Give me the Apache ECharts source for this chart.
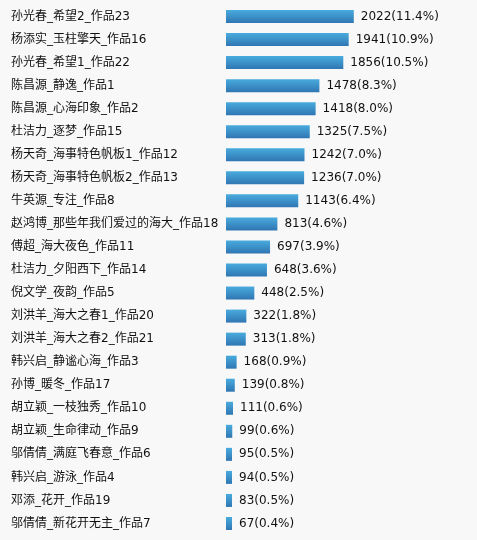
<!DOCTYPE html>
<html lang="zh">
  <head>
    <meta charset="utf-8" />
    <title>作品投票</title>
    <script src="https://cdn.jsdelivr.net/npm/echarts@6/dist/echarts.min.js"></script>
    <style>
      html, body { margin: 0; padding: 0; background: #f8f8f8; }
      #chart { width: 477px; height: 540px; }
    </style>
  </head>
  <body>
    <div id="chart"></div>
    <script type="text/javascript">
      // 作品名称（从上到下）
      var works = [
        "孙光春_希望2_作品23",
        "杨添实_玉柱擎天_作品16",
        "孙光春_希望1_作品22",
        "陈昌源_静逸_作品1",
        "陈昌源_心海印象_作品2",
        "杜洁力_逐梦_作品15",
        "杨天奇_海事特色帆板1_作品12",
        "杨天奇_海事特色帆板2_作品13",
        "牛英源_专注_作品8",
        "赵鸿博_那些年我们爱过的海大_作品18",
        "傅超_海大夜色_作品11",
        "杜洁力_夕阳西下_作品14",
        "倪文学_夜韵_作品5",
        "刘洪羊_海大之春1_作品20",
        "刘洪羊_海大之春2_作品21",
        "韩兴启_静谧心海_作品3",
        "孙博_暖冬_作品17",
        "胡立颖_一枝独秀_作品10",
        "胡立颖_生命律动_作品9",
        "邬倩倩_满庭飞春意_作品6",
        "韩兴启_游泳_作品4",
        "邓添_花开_作品19",
        "邬倩倩_新花开无主_作品7"
      ];
      // 票数
      var votes = [2022, 1941, 1856, 1478, 1418, 1325, 1242, 1236, 1143, 813, 697, 648,
        448, 322, 313, 168, 139, 111, 99, 95, 94, 83, 67];
      // 百分比
      var pct = ["11.4", "10.9", "10.5", "8.3", "8.0", "7.5", "7.0", "7.0", "6.4", "4.6",
        "3.9", "3.6", "2.5", "1.8", "1.8", "0.9", "0.8", "0.6", "0.6", "0.5", "0.5", "0.5", "0.4"];

      var font = "DejaVu Sans, Verdana, Noto Sans CJK SC, sans-serif";
      var myChart = echarts.init(document.getElementById("chart"));
      myChart.setOption({
        backgroundColor: "#f8f8f8",
        animation: false,
        grid: { left: 226, right: 93, top: 5, bottom: 5 },
        xAxis: {
          type: "value",
          min: 0,
          max: 2500,
          show: false
        },
        yAxis: {
          type: "category",
          data: works,
          inverse: true,
          axisLine: { show: false },
          axisTick: { show: false },
          axisLabel: {
            align: "left",
            margin: 215,
            color: "#111",
            fontSize: 12,
            fontFamily: font
          }
        },
        series: [
          {
            type: "bar",
            data: votes,
            barWidth: 13,
            barMinHeight: 6,
            itemStyle: {
              color: new echarts.graphic.LinearGradient(0, 0, 0, 1, [
                { offset: 0, color: "#49abdd" },
                { offset: 1, color: "#2f76b3" }
              ])
            },
            label: {
              show: true,
              position: "right",
              distance: 7,
              color: "#111",
              fontSize: 12,
              fontFamily: font,
              formatter: function (p) {
                return p.value + "(" + pct[p.dataIndex] + "%)";
              }
            }
          }
        ]
      });
    </script>
  </body>
</html>
